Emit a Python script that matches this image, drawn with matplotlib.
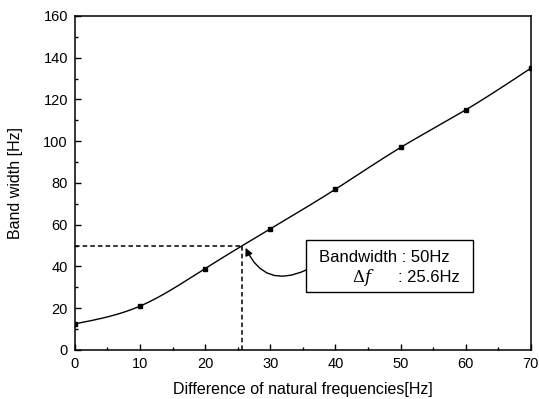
import numpy as np
import matplotlib
matplotlib.use("Agg")
import matplotlib.pyplot as plt
from matplotlib.ticker import MultipleLocator
from matplotlib.patches import Rectangle

# data
freq_diff = [0, 10, 20, 30, 40, 50, 60, 70]
band_width = [12.5, 21, 39, 58, 77, 97, 115, 135]
target_bw = 50
target_df = 25.6
xticks = [0, 10, 20, 30, 40, 50, 60, 70]
yticks = [0, 20, 40, 60, 80, 100, 120, 140, 160]


def natural_spline(x, y, xs):
    x = np.asarray(x, float); y = np.asarray(y, float)
    n = len(x)
    h = np.diff(x)
    A = np.zeros((n, n)); r = np.zeros(n)
    A[0, 0] = A[-1, -1] = 1
    for i in range(1, n - 1):
        A[i, i - 1] = h[i - 1]; A[i, i] = 2 * (h[i - 1] + h[i]); A[i, i + 1] = h[i]
        r[i] = 6 * ((y[i + 1] - y[i]) / h[i] - (y[i] - y[i - 1]) / h[i - 1])
    M = np.linalg.solve(A, r)
    idx = np.clip(np.searchsorted(x, xs) - 1, 0, n - 2)
    x0, x1 = x[idx], x[idx + 1]; hh = x1 - x0
    return (M[idx] * (x1 - xs) ** 3 / (6 * hh) + M[idx + 1] * (xs - x0) ** 3 / (6 * hh)
            + (y[idx] / hh - M[idx] * hh / 6) * (x1 - xs)
            + (y[idx + 1] / hh - M[idx + 1] * hh / 6) * (xs - x0))


plt.rcParams['font.family'] = ['Liberation Sans', 'DejaVu Sans']
fig = plt.figure(figsize=(5.39, 3.99), dpi=100)
ax = fig.add_axes([0.139, 0.123, 0.846, 0.837])

xs = np.linspace(freq_diff[0], freq_diff[-1], 400)
ax.plot(xs, natural_spline(freq_diff, band_width, xs), color='black', lw=1.0)
ax.plot(freq_diff, band_width, 's', color='black', ms=3.5)

ax.plot([0, target_df], [target_bw, target_bw], color='black', lw=1.1, ls=(0, (3, 2)))
ax.plot([target_df, target_df], [0, target_bw], color='black', lw=1.1, ls=(0, (3, 2)))

ax.annotate('', xy=(26.2, 48.9), xytext=(35.5, 38.3),
            arrowprops=dict(arrowstyle='-|>', color='black', lw=1.0,
                            connectionstyle='arc3,rad=-0.5', mutation_scale=11,
                            shrinkA=0, shrinkB=0))

ax.add_patch(Rectangle((35.5, 27.8), 25.6, 24.9, fc='white', ec='black', lw=1.0, zorder=3))
ax.text(37.4, 44.1, 'Bandwidth : 50Hz', fontsize=12, va='center', ha='left', zorder=4)
ax.text(42.5, 34.8, r'$\Delta f$', fontsize=12, va='center', ha='left', zorder=4,
        math_fontfamily='dejavuserif')
ax.text(49.6, 34.6, ': 25.6Hz', fontsize=12, va='center', ha='left', zorder=4)

ax.set_xlim(0, 70)
ax.set_ylim(0, 160)
ax.set_xticks(xticks)
ax.set_yticks(yticks)
ax.xaxis.set_minor_locator(MultipleLocator(5))
ax.yaxis.set_minor_locator(MultipleLocator(10))
ax.tick_params(which='both', direction='in', top=False, right=False, labelsize=10.5, width=1)
ax.tick_params(which='major', length=4, pad=5)
ax.tick_params(which='minor', length=2.5)
for s in ax.spines.values():
    s.set_linewidth(1.1)

ax.set_xlabel('Difference of natural frequencies[Hz]', fontsize=11.5, labelpad=8)
ax.set_ylabel('Band width [Hz]', fontsize=11.5, labelpad=15)

fig.savefig('out.png', dpi=100)
